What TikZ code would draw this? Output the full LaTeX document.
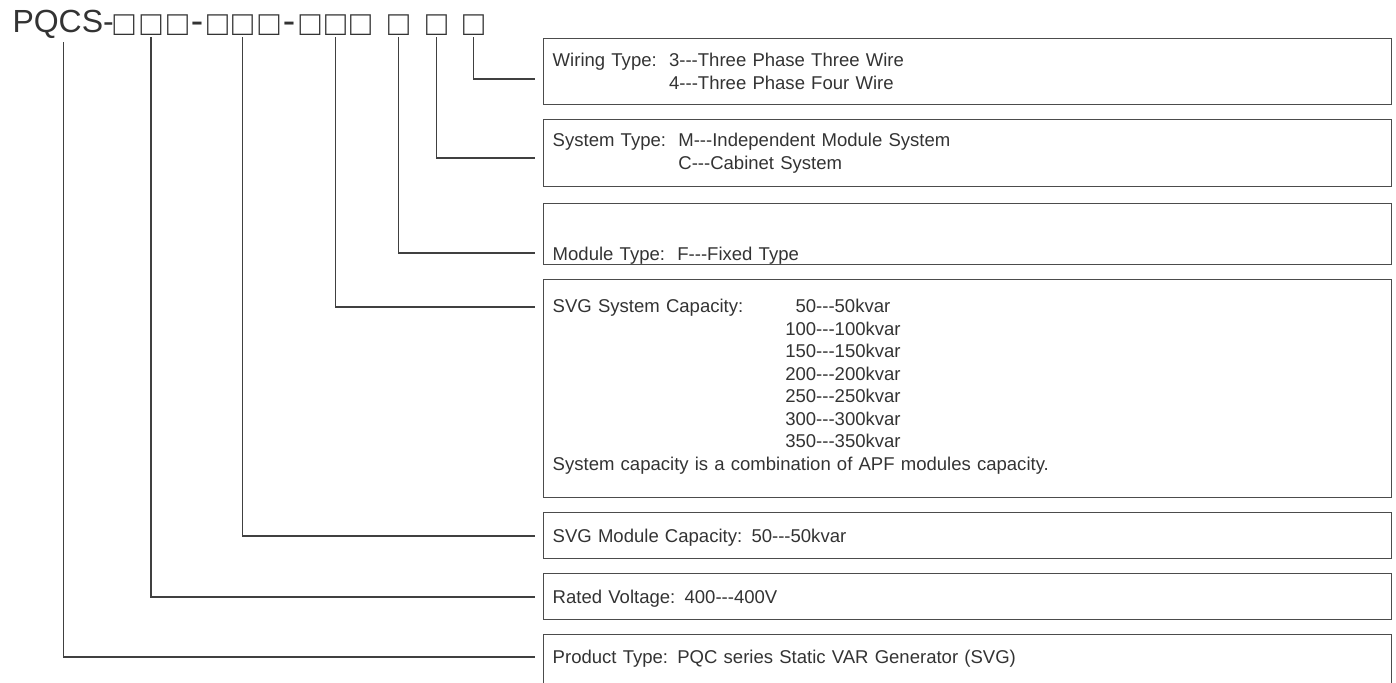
\documentclass[tikz,border=0pt]{standalone}
\usepackage{fontspec}
\setmainfont{Liberation Sans}[Ligatures=TeXOff]
\usetikzlibrary{positioning}

\begin{document}
\begin{tikzpicture}[x=0.75pt,y=-0.75pt,
    codetext/.style={font=\fontsize{24pt}{28pt}\selectfont, text=black!80, inner sep=0pt},
    digit/.style={codetext, font=\fontsize{26pt}{30pt}\selectfont, outer sep=1.5pt, anchor=base},
    codedash/.style={codetext, font=\fontsize{28pt}{32pt}\selectfont, anchor=base},
    infobox/.style={draw=black!70, line width=1.1pt, anchor=north west, text width=622.5pt,
        align=left, inner xsep=6.75pt, inner ysep=0pt, text=black!80,
        font=\fontsize{13.9pt}{16.9pt}\selectfont},
    link/.style={draw=black!75, line width=1pt}]
    \useasboundingbox (0,0) rectangle (1396,682);
    \clip (0,0) rectangle (1396,682);
    % the type code
    \node[codetext, anchor=base west, outer sep=3pt] (code) at (8.5,32) {PQCS-};
    \foreach \n/\x in {s1/124, s2/151, s3/177.5, s4/217.5, s5/242.5, s6/269,
        s7/310, s8/335.5, s9/360.5, s10/398.5, s11/436.5, s12/473.5}
    \node[digit] (\n) at (\x,35) {\makebox[16pt][c]{□}};
    \node[codedash] (dash1) at (197,33) {-};
    \node[codedash] (dash2) at (289,33) {-};
    % the boxes
    \node[infobox, text height=21pt, text depth=28.5pt] (wiring) at (543,38)
        {Wiring Type:~~3---Three Phase Three Wire\\
         \phantom{Wiring Type:~~}4---Three Phase Four Wire};
    \node[infobox, text height=20.25pt, text depth=30pt] (system) at (543,119)
        {System Type:~~M---Independent Module System\\
         \phantom{System Type:~~}C---Cabinet System};
    \node[infobox, text height=42.75pt, text depth=3pt] (module) at (543,203)
        {Module Type:~~F---Fixed Type};
    \node[infobox, text height=24.75pt, text depth=138.75pt] (syscap) at (543,279)
        {\begin{tabular}[t]{@{}l@{\hspace{31.5pt}}c@{}}
         SVG System Capacity: & 50---50kvar\\
          & 100---100kvar\\
          & 150---150kvar\\
          & 200---200kvar\\
          & 250---250kvar\\
          & 300---300kvar\\
          & 350---350kvar\\
         \multicolumn{2}{@{}l}{\rlap{System capacity is a combination of APF modules capacity.}}
         \end{tabular}};
    \node[infobox, text height=22.5pt, text depth=12pt] (modcap) at (543,512)
        {SVG Module Capacity: 50---50kvar};
    \node[infobox, text height=22.5pt, text depth=12pt] (voltage) at (543,573)
        {Rated Voltage: 400---400V};
    \node[infobox, text height=21.75pt, text depth=30pt] (product) at (543,634)
        {Product Type: PQC series Static VAR Generator (SVG)};
    % connectors
    \coordinate (wiring-in) at (535,79);
    \coordinate (system-in) at (535,158);
    \coordinate (module-in) at (535,253);
    \coordinate (syscap-in) at (535,307);
    \coordinate (modcap-in) at (535,536);
    \coordinate (voltage-in) at (535,597);
    \coordinate (product-in) at (535,657);
    \draw[link] (s12.south) |- (wiring-in);
    \draw[link] (s11.south) |- (system-in);
    \draw[link] (s10.south) |- (module-in);
    \draw[link] (s8.south) |- (syscap-in);
    \draw[link] (s5.south) |- (modcap-in);
    \draw[link] (s2.south) |- (voltage-in);
    \draw[link] (code.south) |- (product-in);
\end{tikzpicture}
\end{document}
